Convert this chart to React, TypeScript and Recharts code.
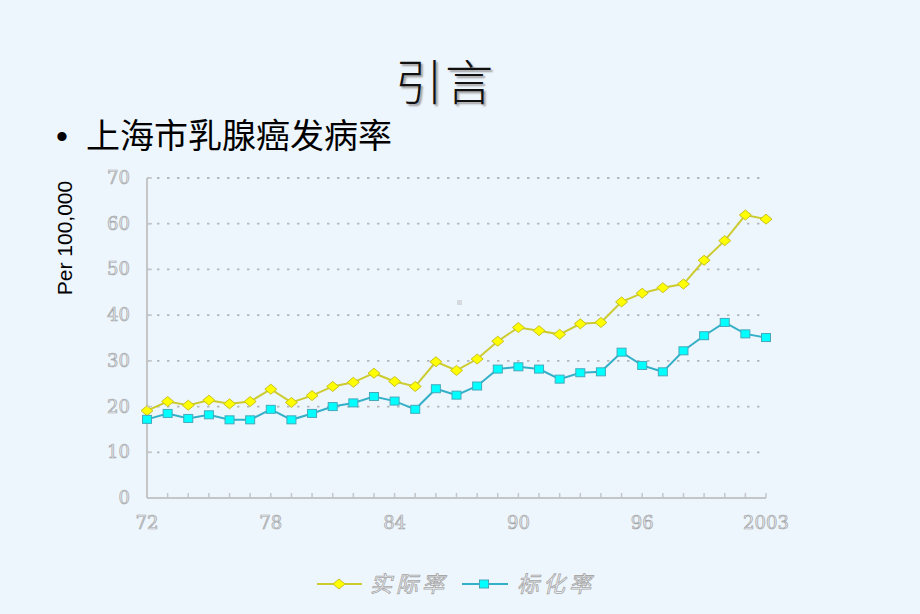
import React from 'react';
import { LineChart, Line, XAxis, YAxis, CartesianGrid } from 'recharts';

const years = [
  '1972', '1973', '1974', '1975', '1976', '1977', '1978', '1979', '1980', '1981', '1982',
  '1983', '1984', '1985', '1986', '1987', '1988', '1989', '1990', '1991', '1992', '1993',
  '1994', '1995', '1996', '1997', '1998', '1999', '2000', '2001', '2002',
];
const actualRate = [
  19.1, 21.1, 20.3, 21.4, 20.6, 21.1, 23.8, 20.9, 22.4, 24.4, 25.3,
  27.3, 25.5, 24.4, 29.8, 27.9, 30.4, 34.3, 37.3, 36.6, 35.8, 38.1,
  38.4, 42.9, 44.8, 46.0, 46.8, 52.0, 56.3, 61.9, 61.0,
];
const standardRate = [
  17.2, 18.5, 17.4, 18.2, 17.1, 17.1, 19.4, 17.1, 18.5, 20.0, 20.8,
  22.2, 21.2, 19.4, 23.9, 22.5, 24.5, 28.2, 28.7, 28.2, 26.0, 27.4,
  27.6, 31.9, 29.0, 27.6, 32.2, 35.5, 38.4, 35.9, 35.1,
];
const xTickYears = ['1972', '1978', '1984', '1990', '1996', '2002'];
const xTickLabels = ['72', '78', '84', '90', '96', '2003'];
const yTicks = [0, 10, 20, 30, 40, 50, 60, 70];
const seriesNames = ['实际率', '标化率'];

const data = years.map((y, i) => ({ year: y, actual: actualRate[i], standard: standardRate[i] }));

const AXIS = '#c4c6c8';
const outlineText = {
  fill: '#e6eaee',
  stroke: '#a4a6a8',
  strokeWidth: 0.7,
  fontFamily: 'DejaVu Serif',
  fontSize: 18,
};

const XTick = (props: any) => {
  const { x, y, payload } = props;
  const idx = xTickYears.indexOf(payload.value);
  return (
    <g>
      <line x1={x} x2={x} y1={y - 5} y2={y} stroke={AXIS} strokeWidth={1.5} />
      {idx >= 0 && (
        <text x={x} y={y + 31} textAnchor="middle" style={outlineText as any}>
          {xTickLabels[idx]}
        </text>
      )}
    </g>
  );
};

const YTick = (props: any) => {
  const { x, y, payload } = props;
  return (
    <g>
      {payload.value !== 0 && (
        <line x1={x + 16} x2={x + 21} y1={y} y2={y} stroke={AXIS} strokeWidth={1.5} />
      )}
      <text x={x - 1} y={y + 6} textAnchor="end" style={outlineText as any}>
        {payload.value}
      </text>
    </g>
  );
};

const Diamond = (props: any) => {
  const { cx, cy } = props;
  if (cx == null || cy == null) return null;
  return (
    <polygon
      points={`${cx},${cy - 5} ${cx + 6},${cy} ${cx},${cy + 5} ${cx - 6},${cy}`}
      fill="#ffff00"
      stroke="#c8c020"
      strokeWidth={1}
    />
  );
};

const Square = (props: any) => {
  const { cx, cy } = props;
  if (cx == null || cy == null) return null;
  return <rect x={cx - 4.5} y={cy - 4} width={9} height={8} fill="#00ffff" stroke="#44aabb" strokeWidth={1} />;
};

export default function App() {
  return (
    <div
      style={{
        position: 'absolute',
        left: 0,
        top: 0,
        width: 920,
        height: 614,
        background: '#eef6fd',
        overflow: 'hidden',
      }}
    >
      <div
        style={{
          position: 'absolute',
          left: 0,
          top: 52,
          width: 890,
          textAlign: 'center',
          fontFamily: '"Noto Sans CJK SC"',
          fontWeight: 300,
          fontSize: 48,
          lineHeight: '54px',
          color: '#111',
          textShadow: '2px 2px 2px #9a9a9a',
          letterSpacing: 2,
        }}
      >
        引言
      </div>
      <div
        style={{
          position: 'absolute',
          left: 56,
          top: 115,
          fontFamily: '"Noto Sans CJK SC"',
          fontSize: 34,
          lineHeight: '38px',
          color: '#000',
          whiteSpace: 'nowrap',
        }}
      >
        <span style={{ fontFamily: '"Liberation Sans"', marginRight: 18 }}>•</span>
        上海市乳腺癌发病率
      </div>
      <div
        style={{
          position: 'absolute',
          left: 65,
          top: 238,
          transform: 'translate(-50%, -50%) rotate(-90deg)',
          fontFamily: '"Liberation Sans"',
          fontSize: 21,
          color: '#000',
          whiteSpace: 'nowrap',
        }}
      >
        Per 100,000
      </div>
      <div
        style={{ position: 'absolute', left: 457, top: 300, width: 5, height: 5, background: '#d6dadf' }}
      />
      <div style={{ position: 'absolute', left: 0, top: 0 }}>
        <LineChart
          width={920}
          height={614}
          data={data}
          margin={{ top: 178, right: 154, bottom: 76, left: 107 }}
        >
          <CartesianGrid
            horizontal
            vertical={false}
            stroke="#b4b8bc"
            strokeWidth={1.8}
            strokeDasharray="2.5 7.5"
          />
          <XAxis
            dataKey="year"
            interval={0}
            height={40}
            tickSize={0}
            tickMargin={0}
            tickLine={false}
            axisLine={{ stroke: AXIS, strokeWidth: 2 }}
            tick={<XTick />}
          />
          <YAxis
            domain={[0, 70]}
            ticks={yTicks}
            width={40}
            tickSize={0}
            tickMargin={16}
            tickLine={false}
            axisLine={{ stroke: AXIS, strokeWidth: 2 }}
            tick={<YTick />}
          />
          <Line
            dataKey="actual"
            name={seriesNames[0]}
            stroke="#cccc30"
            strokeWidth={2}
            dot={<Diamond />}
            isAnimationActive={false}
          />
          <Line
            dataKey="standard"
            name={seriesNames[1]}
            stroke="#33b0c8"
            strokeWidth={2}
            dot={<Square />}
            isAnimationActive={false}
          />
        </LineChart>
      </div>
      <svg style={{ position: 'absolute', left: 0, top: 564 }} width={920} height={40}>
        <line x1={317} x2={362} y1={20} y2={20} stroke="#cccc30" strokeWidth={2} />
        <Diamond cx={339} cy={20} />
        <text
          x={370}
          y={28}
          fontFamily='"Noto Sans CJK SC"'
          fontSize={22}
          fontStyle="italic"
          letterSpacing={4}
          fill="#eef2f6"
          stroke="#a8a8a8"
          strokeWidth={0.8}
        >
          {seriesNames[0]}
        </text>
        <line x1={462} x2={508} y1={20} y2={20} stroke="#33b0c8" strokeWidth={2} />
        <Square cx={484} cy={20} />
        <text
          x={517}
          y={28}
          fontFamily='"Noto Sans CJK SC"'
          fontSize={22}
          fontStyle="italic"
          letterSpacing={4}
          fill="#eef2f6"
          stroke="#a8a8a8"
          strokeWidth={0.8}
        >
          {seriesNames[1]}
        </text>
      </svg>
    </div>
  );
}
